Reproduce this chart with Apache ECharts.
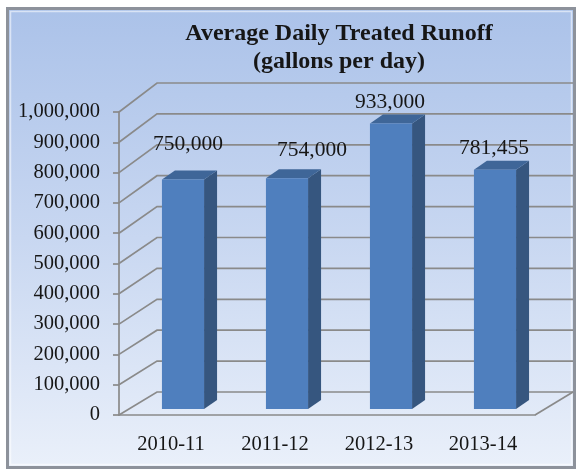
<!DOCTYPE html>
<html>
<head>
<meta charset="utf-8">
<script src="https://cdn.jsdelivr.net/npm/echarts@6/dist/echarts.min.js"></script>
<style>
  html, body { margin: 0; padding: 0; background: #ffffff; }
  #chart { width: 581px; height: 474px; }
</style>
</head>
<body>
<div id="chart"></div>
<script>
// Seasons and average daily treated runoff (gallons per day)
const seasons = ['2010-11', '2011-12', '2012-13', '2013-14'];
const treatedRunoff = [750000, 754000, 933000, 781455];
// Value axis ticks
const valueTicks = [0, 100000, 200000, 300000, 400000, 500000, 600000, 700000, 800000, 900000, 1000000];
const titleLines = ['Average Daily Treated Runoff', '(gallons per day)'];

const FONT = '"Liberation Serif", "Times New Roman", serif';
const TEXT = '#161616';
const GRID_LINE = '#8a8a8a';
const vMax = valueTicks[valueTicks.length - 1];
const vStep = valueTicks[1] - valueTicks[0];

// 3D look: how far the back wall recedes from the front plane
const WALL_DX = 38;
const wallDy = v => -23 - 6 * v / vMax;
// bars stand part way into the depth
const BAR_DX = 12;
const barDy = v => -6 - 3 * v / vMax;
const BAR_SIDE = 13, BAR_RISE = -9;
// hand-placed value label nudges (x, height above bar face)
const labelNudge = [[5, 35], [25, 28], [-1, 21], [-1, 22]];

const fmt = v => Math.round(v).toLocaleString('en-US');

function renderWall(params, api) {
  const v = api.value(0);
  const cs = params.coordSys;
  const y = api.coord([0, v])[1];
  const dy = wallDy(v);
  const x0 = cs.x, x1 = cs.x + cs.width;
  const style = { stroke: GRID_LINE, lineWidth: 1.7, fill: null };
  const children = [{
    type: 'polyline',
    shape: { points: [[x0, y], [x0 + WALL_DX, y + dy], [x1 + WALL_DX, y + dy]] },
    style: style
  }];
  if (v === 0) {
    children.push({
      type: 'line',
      shape: { x1: x1, y1: y, x2: x1 + WALL_DX, y2: y + dy },
      style: style
    });
  }
  return { type: 'group', children: children };
}

function renderBar(params, api) {
  const i = api.value(0), v = api.value(1);
  const base = api.coord([i, 0]);
  const top = api.coord([i, v]);
  const bw = api.size([1, 0])[0] * 0.405;
  const xl = top[0] + BAR_DX - bw / 2, xr = xl + bw;
  const yb = base[1] + barDy(0), yt = top[1] + barDy(v);
  const nudge = labelNudge[i];
  return {
    type: 'group',
    children: [
      {
        type: 'polygon',
        shape: { points: [[xr, yt], [xr + BAR_SIDE, yt + BAR_RISE], [xr + BAR_SIDE, yb + BAR_RISE], [xr, yb]] },
        style: { fill: '#36567f' }
      },
      {
        type: 'polygon',
        shape: { points: [[xl, yt], [xl + BAR_SIDE, yt + BAR_RISE], [xr + BAR_SIDE, yt + BAR_RISE], [xr, yt]] },
        style: { fill: '#3f6698' }
      },
      {
        type: 'rect',
        shape: { x: xl, y: yt, width: bw, height: yb - yt },
        style: { fill: '#4f7fbe' }
      },
      {
        type: 'text',
        style: {
          text: fmt(v), x: (xl + xr) / 2 + nudge[0], y: yt - nudge[1],
          align: 'center', verticalAlign: 'middle',
          fontSize: 21.5, fontFamily: FONT, fill: TEXT
        }
      }
    ]
  };
}

const chart = echarts.init(document.getElementById('chart'), null, { renderer: 'canvas' });
chart.setOption({
  animation: false,
  graphic: {
    elements: [
      {
        type: 'rect', z: -100,
        shape: { x: 7.5, y: 8.5, width: 567, height: 459 },
        style: {
          fill: {
            type: 'linear', x: 0, y: 0, x2: 0, y2: 1,
            colorStops: [
              { offset: 0, color: '#abc2e9' },
              { offset: 0.5, color: '#c8d7f1' },
              { offset: 1, color: '#eaf0fa' }
            ]
          },
          stroke: '#8d929b', lineWidth: 3
        }
      },
      {
        type: 'rect', z: -99,
        shape: { x: 10.5, y: 11.5, width: 561, height: 453 },
        style: { fill: null, stroke: 'rgba(255,255,255,0.55)', lineWidth: 1.5 }
      },
      {
        type: 'text', z: 10,
        style: {
          text: titleLines.join('\n'), x: 339, y: 48,
          align: 'center', verticalAlign: 'middle', lineHeight: 28,
          fontSize: 24, fontWeight: 'bold', fontFamily: FONT, fill: TEXT
        }
      }
    ]
  },
  grid: { left: 119, right: 46, top: 112, bottom: 59 },
  xAxis: {
    type: 'category',
    data: seasons,
    axisLine: { lineStyle: { color: GRID_LINE, width: 1.7 } },
    axisTick: { length: 6, lineStyle: { color: GRID_LINE, width: 1.7 } },
    axisLabel: { margin: 19, fontSize: 20.5, fontFamily: FONT, color: TEXT },
    splitLine: { show: false }
  },
  yAxis: {
    type: 'value',
    min: valueTicks[0], max: vMax, interval: vStep,
    axisLine: { show: true, lineStyle: { color: GRID_LINE, width: 1.7 } },
    axisTick: { show: true, length: 6, lineStyle: { color: GRID_LINE, width: 1.7 } },
    axisLabel: { margin: 19, fontSize: 20.5, fontFamily: FONT, color: TEXT, formatter: fmt },
    splitLine: { show: false }
  },
  series: [
    {
      type: 'custom', name: 'walls', z: 1, silent: true,
      renderItem: renderWall,
      data: valueTicks.map(v => [v]),
      encode: { y: 0 }
    },
    {
      type: 'custom', name: 'Average Daily Treated Runoff', z: 3,
      renderItem: renderBar,
      data: treatedRunoff.map((v, i) => [i, v]),
      encode: { x: 0, y: 1 }
    }
  ]
});
</script>
</body>
</html>
